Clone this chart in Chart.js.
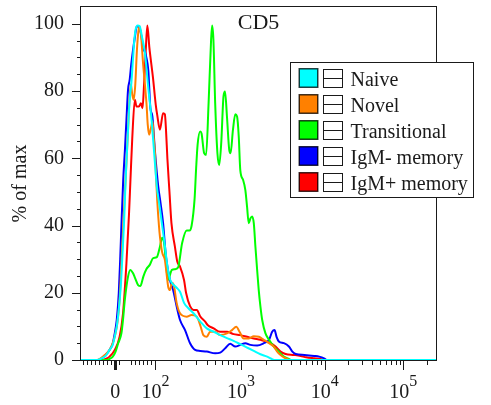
<!DOCTYPE html>
<html>
<head>
<meta charset="utf-8">
<script src="https://cdn.jsdelivr.net/npm/chart.js@4"></script>
<style>
  html, body { margin: 0; padding: 0; background: #fff; }
  canvas { display: block; }
</style>
</head>
<body>
<canvas id="histogram" width="491" height="405"></canvas>
<script>
// CD5 histograms: [fluorescence intensity, % of max]
const naive = [[-85,0],[-44,0],[-34,0.5],[-24,1.2],[-14,3],[-6,4.5],[-1,7],[4,10],[9,15],[14,22],[17.5,30],[22.5,42],[26,53.6],[31,66],[36,77.4],[40,82],[44,89],[47.5,95],[51,98.4],[56,99.5],[61,99.3],[66,96.5],[74,91.3],[82,81.3],[90.5,71.4],[97,61.5],[104,51.6],[113,45],[120,40],[129,34],[138,28],[148,24],[161,22.5],[177,21.5],[194,20.3],[216,17],[243,15.4],[279,13.9],[333,11.5],[398,9.4],[479,8.4],[571,7.4],[685,6.5],[818,5.7],[980,4.7],[1180,3.7],[1420,2.7],[1705,1.7],[2050,1],[2377,0.2],[2582,0],[262144,0]];
const novel = [[-85,0],[-46,0],[-36,0.5],[-26,1.5],[-14,3],[-6,5],[1,8],[6,11.5],[11,18],[16,30],[21,42],[26,54],[31,66],[35,76],[39,82],[42.5,79],[46,77.4],[50,82],[54,92],[57.5,97.5],[60,99.3],[64,97],[69.5,88],[74,82],[78,76],[81,70],[84.5,67],[89,69],[93,71],[96,66],[99,61.5],[102,54],[105,47.6],[110,40],[113,36.7],[120,32],[129,29.8],[136,25],[141,21.8],[148,20.8],[156,23],[165,22],[177,17],[194,13.9],[232,12.9],[264,13.4],[304,12.9],[338,9.9],[363,7.4],[398,6.9],[436,8.4],[499,8.4],[571,7.4],[685,7.9],[785,8.9],[880,9.9],[960,8.4],[1075,6.4],[1240,6.4],[1420,7.1],[1635,6.9],[1870,6],[2160,5],[2460,4],[2700,2.5],[2965,1.5],[3250,0.8],[3570,0.3],[3804,0],[262144,0]];
const transitional = [[-85,0],[-21,0],[-14,0.3],[-6,1],[1,2.5],[7.5,5],[15.5,7.9],[19.5,12],[24,17.9],[32,24.8],[37.5,26.8],[44.5,25.8],[49,24.5],[57,22.3],[63,22],[66,23],[70,24.8],[77.5,27],[86,28.3],[94.5,30.3],[104,30.6],[113,33.7],[120,36.4],[126,35],[132,30],[140,23.8],[156,26.8],[169,27],[184,27.5],[205,34.7],[232,38.5],[250,38.5],[265,40],[287,48],[299,57],[311,64],[333,68],[346,67.4],[371,61.5],[391,61],[418,76.4],[447,95.2],[460,99.5],[476,95.2],[499,76.4],[530,61.5],[556,58],[587,64.5],[624,78.4],[650,79.9],[685,72.4],[728,62.5],[755,61.5],[805,68.5],[857,73.1],[899,72.4],[940,66.5],[980,56.5],[1057,53.6],[1126,50.5],[1180,45.6],[1235,40.7],[1293,42.1],[1355,42.7],[1420,40.7],[1485,33.7],[1557,26.8],[1627,20.8],[1705,15.9],[1790,11.9],[1958,7.9],[2160,6],[2460,4],[2830,2.5],[3250,1],[3730,0.3],[4020,0],[262144,0]];
const igmNegMemory = [[-85,0],[-44,0],[-34,0.5],[-24,1.5],[-14,3],[-6,5],[-1,8],[4,12],[9,20],[12.5,30],[15.5,40],[20,53.6],[24,62],[28,71.4],[32,80.4],[36,83.3],[40,88],[44.5,92.3],[49,96],[53,99],[56,99.3],[61,98.5],[65.5,96.2],[69.5,92.3],[72.5,92],[77.5,90],[82.5,86],[87.5,75],[92.5,72.5],[99,62],[108,51.6],[115,46.6],[123,40.7],[133,30.7],[148,23.8],[161,20.8],[181,14.9],[194,11.9],[222,8.9],[254,5],[291,3],[333,2.7],[398,2.5],[499,2],[571,2.2],[654,3.5],[748,4.8],[857,4],[980,4.5],[1126,5],[1293,4.5],[1557,4.3],[1870,5],[2160,6],[2355,8.4],[2512,8.9],[2655,6.9],[2830,5.5],[3250,5],[3730,4],[4100,2.5],[4490,1.8],[5720,1.5],[7460,1.2],[8570,1],[9800,0.5],[10600,0],[262144,0]];
const igmPosMemory = [[-85,0],[-31,0],[-24,0.3],[-14,1],[-1,3],[11,6.9],[19.5,13.9],[28,28.8],[34.5,43.7],[38,53.6],[42.5,66],[49,77.4],[53,75.4],[59,75.4],[64,76.4],[68,74.9],[71,80],[76,92],[80,99.5],[85,93],[94,84],[101,75.9],[105,72.9],[113,68.5],[123,73.4],[129,73.1],[133,68.5],[138,60],[146,50],[154,40.7],[169,33.7],[180,29.3],[194,27.8],[216,23.8],[228,20],[254,16],[279,14.9],[305,14.9],[333,13],[381,11.4],[407,10.4],[479,9.4],[571,8.4],[685,8.4],[818,7.7],[980,7.4],[1180,6.9],[1420,6.4],[1705,6],[1958,5.5],[2249,5],[2582,4],[2965,2.5],[3405,1.8],[4280,1.5],[5150,1.2],[5980,0.8],[7460,0.5],[8954,0.3],[9727,0],[262144,0]];

const seriesNames = ["Naive", "Novel", "Transitional", "IgM- memory", "IgM+ memory"];
const seriesData = [naive, novel, transitional, igmNegMemory, igmPosMemory];
const seriesColors = ["#00ffff", "#ff8000", "#00ff00", "#0000ff", "#ff0000"];

const xRange = [-85, 262144];
const xMajorTicks = [0, 100, 1000, 10000, 100000];
const xMajorLabels = [["0", ""], ["10", "2"], ["10", "3"], ["10", "4"], ["10", "5"]];
const xMinorTicks = [-80, -70, -60, -50, -40, -30, -20, -10, 10, 40, 50, 60, 70, 80, 90,
  200, 300, 400, 500, 600, 700, 800, 900, 2000, 3000, 4000, 5000, 6000, 7000, 8000, 9000,
  20000, 30000, 40000, 50000, 60000, 70000, 80000, 90000, 200000];
const yMajorTicks = [0, 20, 40, 60, 80, 100];
const yMinorTicks = [5, 10, 15, 25, 30, 35, 45, 50, 55, 65, 70, 75, 85, 90, 95];

const FONT = "Liberation Serif";
const INK = "#1a1a1a";

// biexponential-style display: linear up to 100, then log decades
const LINEAR_TOP = 100;
const LINEAR_WIDTH = 40;
const DECADE_WIDTHS = [85.2, 83.3, 78];

function toDisplay(v) {
  if (v <= LINEAR_TOP) return v * LINEAR_WIDTH / LINEAR_TOP;
  let u = LINEAR_WIDTH, d = Math.log10(v) - 2, i = 0;
  while (d > 0) {
    u += Math.min(d, 1) * DECADE_WIDTHS[Math.min(i, DECADE_WIDTHS.length - 1)];
    d -= 1;
    i++;
  }
  return u;
}

const decor = {
  id: "decor",
  beforeDatasetsDraw(chart) {
    const { ctx, chartArea: a } = chart;
    ctx.save();
    ctx.strokeStyle = INK;
    ctx.lineWidth = 1;
    ctx.strokeRect(a.left - 0.5, a.top - 0.5, a.right - a.left + 1, a.bottom - a.top + 1);
    ctx.fillStyle = INK;
    ctx.font = `22px "${FONT}"`;
    ctx.textAlign = "center";
    ctx.textBaseline = "alphabetic";
    ctx.fillText("CD5", (a.left + a.right) / 2, 29);
    ctx.restore();
  },
  afterDraw(chart) {
    const { ctx, chartArea: a, scales: { x, y } } = chart;
    ctx.save();
    ctx.strokeStyle = INK;
    ctx.fillStyle = INK;

    const tickX = (v, len, w) => {
      const px = Math.round(x.getPixelForValue(toDisplay(v))) + 0.5;
      ctx.lineWidth = w;
      ctx.beginPath();
      ctx.moveTo(px, a.bottom);
      ctx.lineTo(px, a.bottom + len);
      ctx.stroke();
    };
    xMinorTicks.forEach(v => tickX(v, 5, 1));
    xMajorTicks.forEach(v => tickX(v, 10, v === 0 ? 3 : 1));

    yMinorTicks.forEach(v => {
      const py = Math.round(y.getPixelForValue(v)) + 0.5;
      ctx.lineWidth = 1;
      ctx.beginPath(); ctx.moveTo(a.left - 4, py); ctx.lineTo(a.left, py); ctx.stroke();
    });
    yMajorTicks.forEach(v => {
      const py = Math.round(y.getPixelForValue(v)) + 0.5;
      ctx.lineWidth = 1;
      ctx.beginPath(); ctx.moveTo(a.left - 9, py); ctx.lineTo(a.left, py); ctx.stroke();
    });

    // x labels with superscript exponents
    ctx.textBaseline = "alphabetic";
    ctx.textAlign = "left";
    xMajorTicks.forEach((v, i) => {
      const px = x.getPixelForValue(toDisplay(v));
      const [base, exp] = xMajorLabels[i];
      ctx.font = `20px "${FONT}"`;
      const wb = ctx.measureText(base).width;
      ctx.font = `16px "${FONT}"`;
      const we = exp ? ctx.measureText(exp).width : 0;
      const start = px - (wb + we) / 2;
      ctx.font = `20px "${FONT}"`;
      ctx.fillText(base, start, 398);
      if (exp) {
        ctx.font = `16px "${FONT}"`;
        ctx.fillText(exp, start + wb, 386);
      }
    });

    // legend
    const box = { left: 290, top: 62, width: 183, height: 135 };
    ctx.fillStyle = "#fff";
    ctx.fillRect(box.left, box.top, box.width, box.height);
    ctx.lineWidth = 1;
    ctx.strokeStyle = INK;
    ctx.strokeRect(box.left + 0.5, box.top + 0.5, box.width, box.height);
    chart.data.datasets.forEach((ds, i) => {
      const cy = 78 + i * 26;
      ctx.fillStyle = ds.borderColor;
      ctx.fillRect(299, cy - 9.5, 19, 19);
      ctx.strokeStyle = "rgba(0,0,0,0.75)";
      ctx.lineWidth = 1.5;
      ctx.strokeRect(299.25, cy - 9.25, 18.5, 18.5);
      ctx.strokeStyle = INK;
      ctx.lineWidth = 1;
      ctx.strokeRect(323.5, cy - 9 + 0.5, 19, 18);
      ctx.beginPath();
      ctx.moveTo(323.5, Math.round(cy) + 0.5);
      ctx.lineTo(342.5, Math.round(cy) + 0.5);
      ctx.stroke();
      ctx.fillStyle = INK;
      ctx.font = `20px "${FONT}"`;
      ctx.fillText(ds.label, 350.5, cy + 7.5);
    });
    ctx.restore();
  }
};

const noEdgePadding = s => {
  s.paddingTop = 0;
  s.paddingBottom = 0;
  s.paddingLeft = 0;
  s.paddingRight = 0;
};

new Chart(document.getElementById("histogram"), {
  type: "scatter",
  data: {
    datasets: seriesNames.map((name, i) => ({
      label: name,
      data: seriesData[i].map(([v, pct]) => ({ x: toDisplay(v), y: pct })),
      showLine: true,
      borderColor: seriesColors[i],
      backgroundColor: seriesColors[i],
      borderWidth: 2,
      pointRadius: 0,
      cubicInterpolationMode: "monotone"
    }))
  },
  options: {
    responsive: false,
    animation: false,
    devicePixelRatio: 1,
    layout: { padding: { top: 7, right: 55, left: 0, bottom: 0 } },
    plugins: { legend: { display: false }, tooltip: { enabled: false } },
    scales: {
      x: {
        type: "linear",
        min: toDisplay(xRange[0]),
        max: toDisplay(xRange[1]),
        ticks: { display: false },
        grid: { display: false },
        border: { display: false },
        afterFit(s) { s.height = 45; noEdgePadding(s); }
      },
      y: {
        min: 0,
        max: 105,
        ticks: {
          stepSize: 20,
          includeBounds: false,
          padding: 8,
          color: INK,
          font: { family: FONT, size: 20 }
        },
        grid: { display: false, drawTicks: true, tickLength: 9 },
        border: { display: false },
        title: {
          display: true,
          text: "% of max",
          color: INK,
          font: { family: FONT, size: 20 },
          padding: { top: 9, bottom: 0 }
        },
        afterFit(s) { s.width = 81; noEdgePadding(s); }
      }
    }
  },
  plugins: [decor]
});
</script>
</body>
</html>
